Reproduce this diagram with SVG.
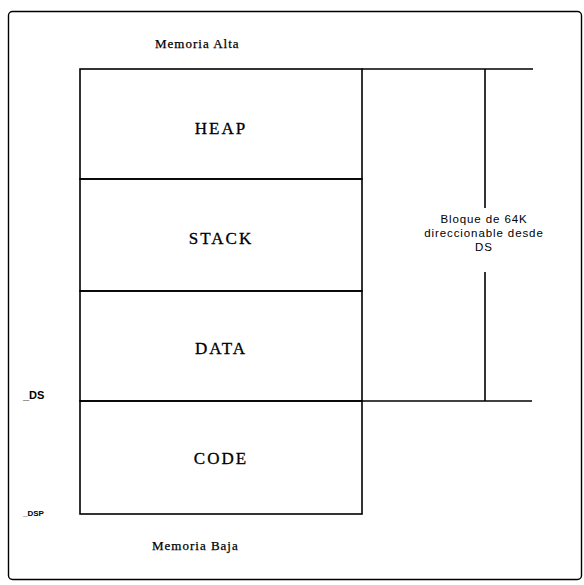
<svg xmlns="http://www.w3.org/2000/svg" width="584" height="585" viewBox="0 0 584 585">
  <style>
    .ln { stroke: #000; stroke-width: 1.6; fill: none; }
    .frame { stroke: #000; stroke-width: 1.4; fill: none; }
    .seg { font-family: "Liberation Serif", "Times New Roman", serif; font-size: 17px; fill: #000; stroke: #000; stroke-width: 0.3; text-anchor: middle; letter-spacing: 2px; }
    .note { font-family: "Liberation Serif", "Times New Roman", serif; font-size: 13px; fill: #000; stroke: #000; stroke-width: 0.25; letter-spacing: 1px; }
    .span { font-family: "Liberation Sans", Arial, sans-serif; font-size: 11.5px; fill: #000; text-anchor: middle; letter-spacing: 0.9px; }
    .reg { font-family: "Liberation Sans", Arial, sans-serif; fill: #000; }
  </style>
  <rect width="584" height="585" fill="#fff"/>

  <!-- outer frame -->
  <rect class="frame" x="8.5" y="11.5" width="573" height="568" rx="4"/>

  <text class="note" x="155" y="48">Memoria Alta</text>
  <text class="note" x="152" y="550">Memoria Baja</text>

  <!-- memory segments -->
  <g id="heap">
    <rect class="ln" x="80" y="69" width="282" height="110"/>
    <text class="seg" x="221" y="134">HEAP</text>
  </g>
  <g id="stack">
    <rect class="ln" x="80" y="179" width="282" height="112"/>
    <text class="seg" x="221" y="244">STACK</text>
  </g>
  <g id="data">
    <rect class="ln" x="80" y="291" width="282" height="110"/>
    <text class="seg" x="221" y="354">DATA</text>
  </g>
  <g id="code">
    <rect class="ln" x="80" y="401" width="282" height="113"/>
    <text class="seg" x="221" y="464">CODE</text>
  </g>

  <!-- register markers -->
  <text class="reg" x="23" y="399" font-size="11" font-weight="bold">_DS</text>
  <text class="reg" x="23" y="516" font-size="8" font-weight="bold">_DSP</text>

  <!-- 64K span bracket -->
  <g id="connectors">
    <line class="ln" x1="362" y1="69" x2="533" y2="69"/>
    <line class="ln" x1="362" y1="401" x2="532" y2="401"/>
    <line class="ln" x1="485" y1="69" x2="485" y2="208"/>
    <line class="ln" x1="485" y1="272" x2="485" y2="401"/>
  </g>
  <g id="span-label">
    <text class="span" x="484" y="223">Bloque de 64K</text>
    <text class="span" x="484" y="237">direccionable desde</text>
    <text class="span" x="484" y="251">DS</text>
  </g>
</svg>
